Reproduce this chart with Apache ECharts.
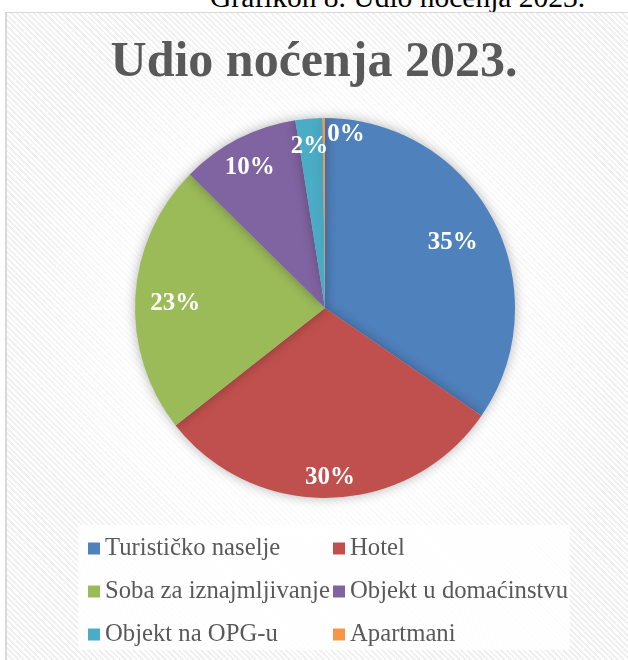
<!DOCTYPE html>
<html>
<head>
	<meta charset="utf-8">
	<title>Udio noćenja 2023.</title>
	<script src="https://cdn.jsdelivr.net/npm/echarts@6/dist/echarts.min.js"></script>
	<style type="text/css">
		body{
			margin: 0;
			width: 628px;
			height: 660px;
			background: #ffffff;
			overflow: hidden;
			position: relative;
		}
		#caption{
			position: absolute;
			left: 210px;
			top: -19px;
			font-family: "Liberation Serif", serif;
			font-size: 29.5px;
			color: #000;
			white-space: nowrap;
		}
		#frame{
			position: absolute;
			left: 5px;
			top: 12px;
			width: 623px;
			height: 648px;
			border-left: 2px solid #d9d9d9;
			border-top: 1px solid #d9d9d9;
			background:
				radial-gradient(ellipse at 50% 48%, rgba(255,255,255,1) 0%, rgba(255,255,255,0.85) 35%, rgba(255,255,255,0) 75%),
				repeating-linear-gradient(45deg, #f0f0f0 0px, #f0f0f0 2px, #ffffff 2px, #ffffff 4px);
		}
		#chartContainer{
			position: absolute;
			left: 0;
			top: 0;
			width: 628px;
			height: 660px;
		}
	</style>
</head>
<body>
	<div id="caption">Grafikon 8. Udio noćenja 2023.</div>
	<div id="frame"></div>
	<div id="chartContainer"></div>
	<script type="text/javascript">
		var categories = ['Turističko naselje', 'Hotel', 'Soba za iznajmljivanje', 'Objekt u domaćinstvu', 'Objekt na OPG-u', 'Apartmani'];
		var shares = [34.6, 29.8, 23.0, 10.1, 2.3, 0.2];
		var colors = ['#4f81bd', '#c0504d', '#9bbb59', '#8064a2', '#4bacc6', '#f79646'];
		var leftColumn = ['Turističko naselje', 'Soba za iznajmljivanje', 'Objekt na OPG-u'];
		var rightColumn = ['Hotel', 'Objekt u domaćinstvu', 'Apartmani'];
		// nudges for the percent labels, like excel's best fit placement
		var labelNudge = [[-12, 8], [0, 12], [8, 4], [-3, 0], [-2, -4], [22, -15]];

		var fontName = 'Liberation Serif';
		var pieData = [];
		var labelData = [];
		for (var i = 0; i < categories.length; i++) {
			pieData.push({value: shares[i], name: categories[i]});
			labelData.push({value: shares[i], name: categories[i], label: {offset: labelNudge[i]}});
		}

		var legendStyle = {
			orient: 'vertical',
			top: 536,
			padding: 0,
			itemWidth: 12,
			itemHeight: 12,
			itemGap: 18,
			icon: 'rect',
			textStyle: {fontFamily: fontName, fontSize: 24.7, lineHeight: 25, color: '#595959'}
		};

		var myChart = echarts.init(document.getElementById('chartContainer'));
		var option = {
			color: colors,
			animation: false,
			title: {
				text: 'Udio noćenja 2023.',
				left: 'center',
				top: 33,
				textStyle: {fontFamily: fontName, fontSize: 50, fontWeight: 'bold', color: '#595959'}
			},
			graphic: [{
				type: 'rect',
				shape: {x: 78, y: 525, width: 492, height: 125},
				style: {fill: 'rgba(255,255,255,0.85)'},
				z: -1
			}],
			legend: [
				Object.assign({left: 88, data: leftColumn}, legendStyle),
				Object.assign({left: 333, data: rightColumn}, legendStyle)
			],
			series: [
				{
					type: 'pie',
					radius: 190,
					center: [325, 308],
					startAngle: 90,
					clockwise: true,
					data: pieData,
					label: {show: false},
					labelLine: {show: false},
					emphasis: {scale: false},
					itemStyle: {
						shadowBlur: 12,
						shadowColor: 'rgba(0,0,0,0.3)'
					}
				},
				{
					// transparent copy, only to place the percent labels at ~0.8 of the radius
					type: 'pie',
					radius: 310,
					center: [325, 308],
					startAngle: 90,
					clockwise: true,
					silent: true,
					legendHoverLink: false,
					avoidLabelOverlap: false,
					percentPrecision: 0,
					data: labelData,
					itemStyle: {color: 'transparent'},
					labelLine: {show: false},
					labelLayout: {hideOverlap: false},
					label: {
						position: 'inside',
						formatter: '{d}%',
						fontFamily: fontName,
						fontSize: 25,
						fontWeight: 'bold',
						color: '#ffffff'
					},
					z: 3
				}
			]
		};
		myChart.setOption(option);
	</script>
</body>
</html>
